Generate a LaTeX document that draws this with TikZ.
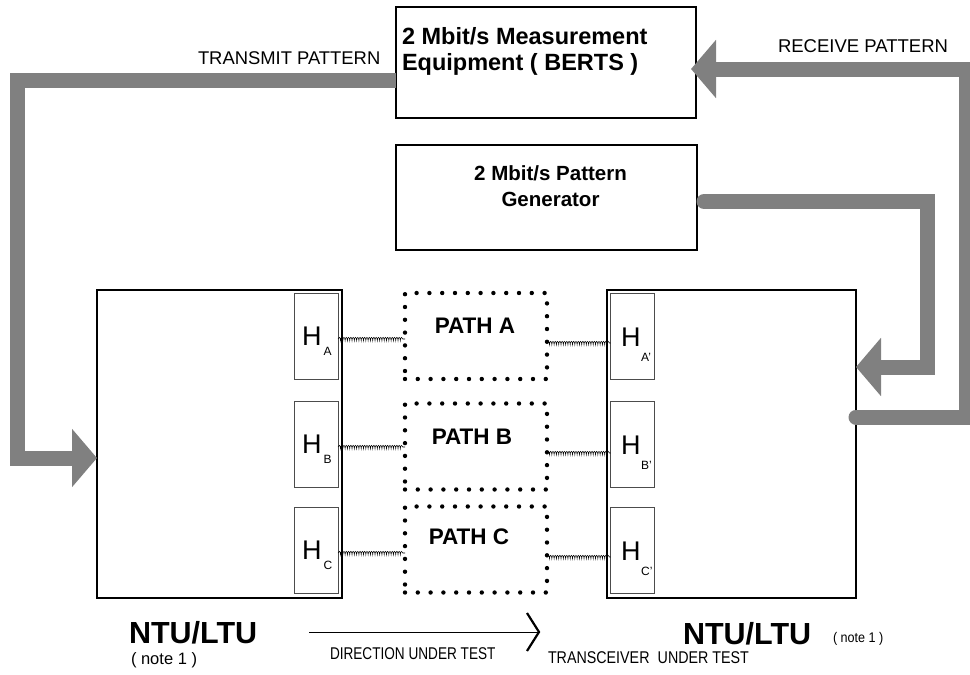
\documentclass[tikz,border=0pt]{standalone}
\usepackage{fontspec}
\setmainfont{Liberation Sans}
\usetikzlibrary{arrows.meta,decorations.pathmorphing}
\definecolor{arrowgray}{HTML}{808080}
\begin{document}
\begin{tikzpicture}[x=1pt,y=-1pt,
  bigbox/.style={draw, line width=2.8pt, inner sep=0pt, outer sep=0pt},
  hbox/.style={draw=black!70, line width=0.8pt, minimum width=44pt, minimum height=86pt, inner sep=0pt, outer sep=0pt},
  pathbox/.style={draw, line width=4.4pt, dash pattern=on 0pt off 12.8pt, line cap=round, minimum width=142pt, minimum height=86pt, inner sep=0pt, outer sep=0pt},
  garrow/.style={draw=arrowgray, line width=15pt, line join=miter},
  gtip/.style={-{Triangle[length=25pt,width=57pt]}},
  wire/.style={decorate, decoration={coil, amplitude=1.6pt, segment length=2.3pt}, line width=0.55pt},
  txt/.style={inner sep=0pt, outer sep=0pt},
  hlab/.style={inner sep=0pt, anchor=base west, font=\fontsize{27}{27}\selectfont}
]
\useasboundingbox (0,0) rectangle (970,675);

% main boxes
\node[bigbox, minimum width=300pt, minimum height=111pt] (bert) at (546,62.5) {};
\node[bigbox, minimum width=301pt, minimum height=105pt] (gen) at (546.5,197.5) {};
\node[bigbox, minimum width=245pt, minimum height=308pt] (ntuL) at (219.5,444) {};
\node[bigbox, minimum width=249pt, minimum height=308pt] (ntuR) at (731.5,444) {};

% texts in boxes
\node[txt, anchor=base west, font=\bfseries\fontsize{23.5}{26}\selectfont] (bt1) at (402,44) {2 Mbit/s Measurement};
\node[txt, anchor=base west, font=\bfseries\fontsize{23.5}{26}\selectfont] (bt2) at (402,70) {Equipment ( BERTS )};
\node[txt, anchor=base, font=\bfseries\fontsize{20.5}{24}\selectfont] (gt1) at (550.5,180) {2 Mbit/s Pattern};
\node[txt, anchor=base, font=\bfseries\fontsize{20.5}{24}\selectfont] (gt2) at (550.5,206) {Generator};

% hybrid boxes
\node[hbox] (hA) at (316,336) {};
\node[hbox] (hB) at (316,444) {};
\node[hbox] (hC) at (316,550) {};
\node[hbox] (hAp) at (632.5,336) {};
\node[hbox] (hBp) at (632.5,444) {};
\node[hbox] (hCp) at (632.5,550) {};

\node[hlab] (lA) at (302,345) {H\raisebox{-10pt}{\fontsize{12}{12}\selectfont\hspace{2pt}A}};
\node[hlab] (lB) at (302,453) {H\raisebox{-10pt}{\fontsize{12}{12}\selectfont\hspace{2pt}B}};
\node[hlab] (lC) at (302,559) {H\raisebox{-10pt}{\fontsize{12}{12}\selectfont\hspace{2pt}C}};
\node[hlab] (lAp) at (621,346) {H\raisebox{-15pt}{\fontsize{12}{12}\selectfont\hspace{0.5pt}A'}};
\node[hlab] (lBp) at (621,454) {H\raisebox{-15pt}{\fontsize{12}{12}\selectfont\hspace{0.5pt}B'}};
\node[hlab] (lCp) at (621,560) {H\raisebox{-15pt}{\fontsize{12}{12}\selectfont\hspace{0.5pt}C'}};

% paths
\node[pathbox] (pA) at (476,336) {};
\node[pathbox] (pB) at (476,446.5) {};
\node[pathbox] (pC) at (476,549.5) {};
\node[txt, anchor=base, font=\bfseries\fontsize{22.5}{24}\selectfont] (ptA) at (475,333) {PATH A};
\node[txt, anchor=base, font=\bfseries\fontsize{22.5}{24}\selectfont] (ptB) at (472,444) {PATH B};
\node[txt, anchor=base, font=\bfseries\fontsize{22.5}{24}\selectfont] (ptC) at (469,544) {PATH C};

% wires
\coordinate (wAl) at ([yshift=-3pt]hA.east);
\coordinate (wBl) at ([yshift=-3pt]hB.east);
\coordinate (wCl) at ([yshift=-3pt]hC.east);
\coordinate (wAr) at ([yshift=-7pt]hAp.west);
\coordinate (wBr) at ([yshift=-9pt]hBp.west);
\coordinate (wCr) at ([yshift=-7pt]hCp.west);
\draw[wire] (wAl) -- (wAl -| pA.west);
\draw[wire] (wBl) -- (wBl -| pB.west);
\draw[wire] (wCl) -- (wCl -| pC.west);
\draw[wire] (wAr -| pA.east) -- (wAr);
\draw[wire] (wBr -| pB.east) -- (wBr);
\draw[wire] (wCr -| pC.east) -- (wCr);

% transmit pattern
\coordinate (tt) at (17.5,80.5);
\coordinate (tb) at (17.5,458);
\draw[garrow, gtip] (bert.west |- tt) -- (tt) -- (tb) -- (tb -| ntuL.west);
\node[txt, anchor=base west, font=\fontsize{18.4}{20}\selectfont] (tp) at (198,64) {TRANSMIT PATTERN};

% receive pattern
\coordinate (rb) at (966,417);
\coordinate (rt) at (966,69);
\draw[garrow, gtip, line cap=round, shorten >=-5pt] (ntuR.east |- rb) -- (rb) -- (rt) -- (rt -| bert.east);
\node[txt, anchor=base west, font=\fontsize{18.5}{20}\selectfont] (rp) at (778,52) {RECEIVE PATTERN};

% generator to NTU
\coordinate (gt) at (927,201.5);
\coordinate (gb) at (927,367);
\draw[garrow, gtip, line cap=round, shorten <=7pt] (gen.east |- gt) -- (gt) -- (gb) -- (gb -| ntuR.east);

% bottom labels
\node[txt, anchor=base west, font=\bfseries\fontsize{30.5}{32}\selectfont] (nl) at (129,643) {NTU/LTU};
\node[txt, anchor=base west, font=\fontsize{16.5}{18}\selectfont] (nl2) at (131,664) {( note 1 )};
\node[txt, anchor=base west, font=\bfseries\fontsize{30.5}{32}\selectfont] (nr) at (683,644) {NTU/LTU};
\node[txt, anchor=base west, font=\fontsize{14}{16}\selectfont] (nr2) at (833,642) {\scalebox{0.9}[1]{( note 1 )}};
\node[txt, anchor=base west, font=\fontsize{17}{18}\selectfont] (dut) at (330,659) {\scalebox{0.8}[1]{DIRECTION UNDER TEST}};
\node[txt, anchor=base west, font=\fontsize{17}{18}\selectfont] (tut) at (548,663) {\scalebox{0.84}[1]{TRANSCEIVER\hspace{5pt} UNDER TEST}};

\coordinate (d1) at (309,632);
\coordinate (d2) at (539,632);
\draw[line width=1pt] (d1) -- (d2);
\draw[line width=2.2pt, line join=miter] ([shift={(-12,-19)}]d2) -- (d2) -- ([shift={(-12,19)}]d2);
\end{tikzpicture}
\end{document}
